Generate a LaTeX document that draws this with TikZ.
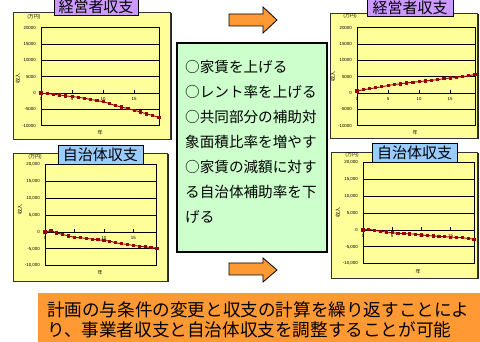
\documentclass[tikz,border=0pt]{standalone}
\usepackage{fontspec}
\setmainfont{Liberation Sans}
\newfontfamily\jp{Noto Sans CJK JP}
\usetikzlibrary{plotmarks}
\definecolor{panelyellow}{HTML}{FFFF99}
\definecolor{titlepurple}{HTML}{CC99FF}
\definecolor{titleblue}{HTML}{99CCFF}
\definecolor{boxgreen}{HTML}{CCFFCC}
\definecolor{arroworange}{HTML}{FF9933}
\definecolor{seriesred}{HTML}{990000}
\begin{document}
\begin{tikzpicture}[x=1pt,y=-1pt,
    panel/.style={fill=panelyellow,draw=black!80,line width=0.6pt},
    shade/.style={fill=black!85},
    titlebox/.style={draw=black,line width=0.8pt,inner sep=0pt,minimum height=19pt,
      font=\jp\fontsize{15}{16}\selectfont},
    plotframe/.style={draw=black,line width=0.9pt},
    gridln/.style={draw=black,line width=0.8pt},
    tickln/.style={draw=black,line width=0.5pt},
    ylab/.style={anchor=east,inner sep=0pt,xshift=-5pt,font=\fontsize{4.4}{5}\selectfont},
    xlab/.style={anchor=north,inner sep=0pt,font=\fontsize{4.4}{5}\selectfont},
    axlab/.style={inner sep=0pt,font=\jp\fontsize{5}{5}\selectfont},
    series/.style={seriesred,line width=0.9pt,mark=square*,mark size=1.1pt,
      mark options={seriesred}},
    blockarrow/.style={fill=arroworange,draw=black,line width=0.8pt,line join=miter}]
  \useasboundingbox (0,0) rectangle (480,342);
  % panels
  \fill[shade] (14.5,13.5) rectangle (171.5,140.5);
  \draw[panel] (13,12) rectangle (170,139);
  \fill[shade] (331.5,14.5) rectangle (478.5,139.5);
  \draw[panel] (330,13) rectangle (477,138);
  \fill[shade] (14.5,154.5) rectangle (168.5,282.5);
  \draw[panel] (13,153) rectangle (167,281);
  \fill[shade] (332.5,153.5) rectangle (478.5,279.5);
  \draw[panel] (331,152) rectangle (477,278);
  % top left chart
  \begin{scope}[shift={(41,93)},x=6.21pt,y=3.26pt]
    \foreach \v in {-10,-5,...,20} \draw[gridln] (0,\v) -- (19,\v);
    \draw[plotframe] (0,-10) rectangle (19,20);
    \foreach \t in {5,10,15} \draw[tickln] (\t,0) -- (\t,0.9);
    \foreach \v/\s in {20/20000,15/15000,10/10000,5/5000,0/0,-5/-5000,-10/-10000}
      \node[ylab] (tlY\s) at (0,\v) {\s};
    \foreach \t in {0,5,10,15} \node[xlab] (tlX\t) at (\t,-1.4) {\t};
    \draw[series] plot coordinates {(0,0) (1,-0.2) (2,-0.4) (3,-0.6) (4,-0.9)
      (5,-1.1) (6,-1.3) (7,-1.6) (8,-2.0) (9,-2.3) (10,-2.7) (11,-3.2) (12,-3.9)
      (13,-4.3) (14,-4.8) (15,-5.3) (16,-5.8) (17,-6.4) (18,-6.9) (19,-7.5)};
  \end{scope}
  \node[axlab] (tlunit) at (34,17) {(万円)};
  \node[axlab,rotate=90] (tlaxis) at (18,79) {収入};
  \node[axlab] (tlyear) at (100,133) {年};
  \node[titlebox,fill=titlepurple,minimum width=84pt,minimum height=17pt] (tltitle) at (96,7) {経営者収支};
  % top right chart
  \begin{scope}[shift={(357,93)},x=6.21pt,y=3.26pt]
    \foreach \v in {-10,-5,...,20} \draw[gridln] (0,\v) -- (19,\v);
    \draw[plotframe] (0,-10) rectangle (19,20);
    \foreach \t in {5,10,15} \draw[tickln] (\t,0) -- (\t,0.9);
    \foreach \v/\s in {20/20000,15/15000,10/10000,5/5000,0/0,-5/-5000,-10/-10000}
      \node[ylab] (trY\s) at (0,\v) {\s};
    \foreach \t in {0,5,10,15} \node[xlab] (trX\t) at (\t,-1.4) {\t};
    \draw[series] plot coordinates {(0,0.6) (1,1.0) (2,1.3) (3,1.6) (4,1.9)
      (5,2.3) (6,2.6) (7,2.8) (8,3.1) (9,3.3) (10,3.5) (11,3.7) (12,3.9)
      (13,4.1) (14,4.4) (15,4.6) (16,4.8) (17,5.0) (18,5.3) (19,5.7)};
  \end{scope}
  \node[axlab] (trunit) at (350,16) {(万円)};
  \node[axlab,rotate=90] (traxis) at (333,77) {収入};
  \node[axlab] (tryear) at (415,133) {年};
  \node[titlebox,fill=titlepurple,minimum width=86pt,minimum height=17pt] (trtitle) at (410,7.5) {経営者収支};
  % bottom left chart
  \begin{scope}[shift={(45,232)},x=5.89pt,y=3.37pt]
    \foreach \v in {-10,-5,...,20} \draw[gridln] (0,\v) -- (19,\v);
    \draw[plotframe] (0,-10) rectangle (19,20);
    \foreach \t in {5,10,15} \draw[tickln] (\t,0) -- (\t,0.9);
    \foreach \v/\s in {20/20{,}000,15/15{,}000,10/10{,}000,5/5{,}000,0/0,-5/-5{,}000,-10/-10{,}000}
      \node[ylab] (blY\v) at (0,\v) {\s};
    \foreach \t in {0,5,10,15} \node[xlab] (blX\t) at (\t,-1.4) {\t};
    \draw[series] plot coordinates {(0,0) (1,0.4) (2,-0.3) (3,-0.7) (4,-1.2)
      (5,-1.6) (6,-1.7) (7,-1.9) (8,-2.1) (9,-2.3) (10,-2.5) (11,-2.7) (12,-3.2)
      (13,-3.5) (14,-3.7) (15,-4.0) (16,-4.2) (17,-4.4) (18,-4.6) (19,-4.8)};
  \end{scope}
  \node[axlab] (blunit) at (35,157) {(万円)};
  \node[axlab,rotate=90] (blaxis) at (20,210) {収入};
  \node[axlab] (blyear) at (100,273) {年};
  \node[titlebox,fill=titleblue,minimum width=85pt] (bltitle) at (100.5,155) {自治体収支};
  % bottom right chart
  \begin{scope}[shift={(363,230)},x=5.84pt,y=3.37pt]
    \foreach \v in {-10,-5,...,20} \draw[gridln] (0,\v) -- (19,\v);
    \draw[plotframe] (0,-10) rectangle (19,20);
    \foreach \t in {5,10,15} \draw[tickln] (\t,0) -- (\t,0.9);
    \foreach \v/\s in {20/20{,}000,15/15{,}000,10/10{,}000,5/5{,}000,0/0,-5/-5{,}000,-10/-10{,}000}
      \node[ylab] (brY\v) at (0,\v) {\s};
    \foreach \t in {0,5,10,15} \node[xlab] (brX\t) at (\t,-1.4) {\t};
    \draw[series] plot coordinates {(0,0) (1,0.2) (2,-0.1) (3,-0.4) (4,-0.6)
      (5,-0.8) (6,-1.0) (7,-1.05) (8,-1.15) (9,-1.25) (10,-1.45) (11,-1.65) (12,-1.75)
      (13,-1.9) (14,-2.0) (15,-2.1) (16,-2.2) (17,-2.3) (18,-2.5) (19,-2.7)};
  \end{scope}
  \node[axlab] (brunit) at (352,155) {(万円)};
  \node[axlab,rotate=90] (braxis) at (338,213) {収入};
  \node[axlab] (bryear) at (418,272) {年};
  \node[titlebox,fill=titleblue,minimum width=85pt] (brtitle) at (414.5,153) {自治体収支};
  % conditions
  \draw[fill=boxgreen,line width=1.6pt] (177,43) rectangle (327,252);
  \node[anchor=west,align=left,inner sep=0pt,font=\jp\fontsize{14.6}{25}\selectfont]
    (condtext) at (185,142) {○家賃を上げる\\○レント率を上げる\\○共同部分の補助対\\象面積比率を増やす\\○家賃の減額に対す\\る自治体補助率を下\\げる};
  % arrows
  \draw[blockarrow] (229,14) -- (263,14) -- (263,7) -- (277,20) -- (263,33) -- (263,26) -- (229,26) -- cycle;
  \draw[blockarrow] (229,263) -- (263,263) -- (263,258) -- (277,270) -- (263,282) -- (263,275) -- (229,275) -- cycle;
  % summary
  \fill[arroworange] (38,293) rectangle (480,342);
  \node[anchor=west,align=left,inner sep=0pt,font=\jp\fontsize{17.6}{20}\selectfont]
    (summary) at (47,320) {計画の与条件の変更と収支の計算を繰り返すことによ\\り、事業者収支と自治体収支を調整することが可能};
\end{tikzpicture}
\end{document}
